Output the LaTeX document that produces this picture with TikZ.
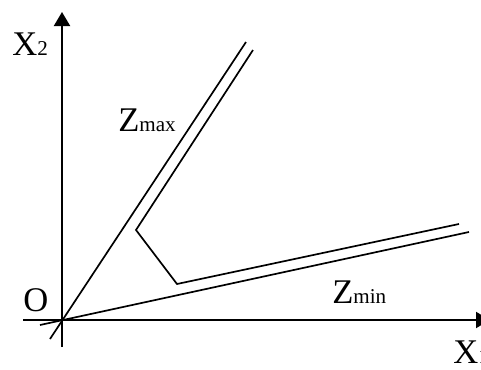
\documentclass[tikz,border=0pt]{standalone}
\usepackage{fontspec}
\setmainfont{Liberation Serif}
\usetikzlibrary{arrows.meta,positioning}
\tikzset{
  % Axes: filled triangular head
  axisarr/.style={-{Triangle[length=0.35cm,width=0.4cm]}, line width=1.4pt},
  % Level lines of the objective
  zline/.style={line width=1.2pt, line join=miter},
  % Axis / line labels, big serif caps
  biglbl/.style={font=\fontsize{24.6}{28}\selectfont, inner sep=0pt, anchor=base west},
}
\newcommand{\smallsub}[1]{{\fontsize{15}{17}\selectfont #1}}

\begin{document}
\begin{tikzpicture}[x=0.025cm, y=-0.025cm]
\useasboundingbox (0,0) rectangle (481,369);

% ============== AXES ==============
\coordinate (o) at (62,320);
\coordinate (ybot) at (62,347);
\coordinate (ytop) at (62,12);
\coordinate (xleft) at (23,320);
\coordinate (xright) at (490,320);
\draw[axisarr] (ybot) -- (ytop);
\draw[axisarr] (xleft) -- (xright);

\node[biglbl] (lx2) at (12,55) {X\smallsub{2}};
\node[biglbl] (lx1) at (453,363) {X\smallsub{1}};
\node[biglbl] (lo) at (23,311) {O};

% ============== OUTER LINES THROUGH O ==============
\coordinate (maxlo) at (50,339);
\coordinate (maxhi) at (246,42);
\coordinate (minlo) at (40,325);
\coordinate (minhi) at (469,232);
\draw[zline] (maxlo) -- (maxhi);
\draw[zline] (minlo) -- (minhi);

% ============== INNER CORNER LINE ==============
\coordinate (ia) at (253,50);
\coordinate (ib) at (136,230);
\coordinate (ic) at (177,284);
\coordinate (id) at (459,224);
\draw[zline] (ia) -- (ib) -- (ic) -- (id);

\node[biglbl] (lzmax) at (118,131) {Z\smallsub{max}};
\node[biglbl] (lzmin) at (332,303) {Z\smallsub{min}};

\end{tikzpicture}
\end{document}
